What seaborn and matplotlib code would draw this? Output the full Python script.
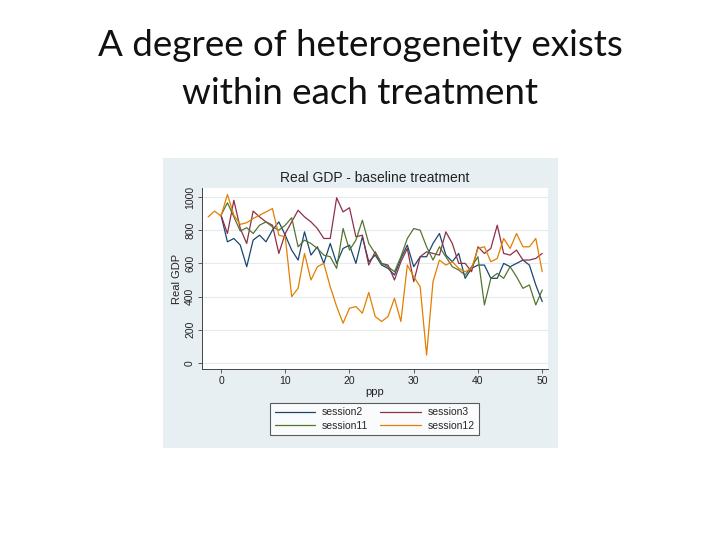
import pandas as pd
import seaborn as sns
from matplotlib import pyplot as plt

# values
ppp = list(range(0, 51))
ppp12 = list(range(-2, 51))

session2 = [890, 730, 750, 710, 580, 740, 770, 730, 800, 850, 770,
            680, 620, 790, 650, 700, 600, 720, 600, 690, 710,
            600, 760, 610, 650, 590, 570, 530, 630, 710, 580,
            640, 640, 720, 780, 650, 610, 660, 510, 570, 590,
            590, 510, 510, 600, 580, 600, 620, 590, 470, 370]
session3 = [890, 780, 980, 810, 720, 915, 880, 850, 830, 660, 780,
            850, 920, 880, 850, 810, 750, 750, 995, 910, 935,
            760, 770, 590, 670, 600, 590, 500, 610, 690, 490,
            640, 670, 660, 650, 790, 720, 600, 600, 550, 700,
            660, 690, 830, 660, 650, 680, 620, 620, 630, 660]
session11 = [890, 965, 880, 795, 815, 780, 830, 850, 820, 800, 830,
             875, 700, 740, 720, 690, 650, 640, 570, 810, 680,
             740, 860, 720, 660, 600, 580, 550, 640, 750, 810,
             800, 700, 620, 700, 640, 580, 560, 530, 580, 640,
             350, 510, 540, 510, 580, 520, 450, 470, 350, 440]
session12 = [880, 915, 885, 1015, 890, 835, 845, 870, 890, 910, 930, 770, 760,
             400, 450, 660, 500, 580, 600, 460, 340, 240, 330,
             340, 300, 425, 280, 250, 280, 390, 250, 590, 520,
             460, 48, 490, 620, 590, 610, 570, 550, 570, 690,
             700, 610, 630, 750, 690, 780, 700, 700, 750, 550]

sessions = ['session2', 'session3', 'session11', 'session12']
colors = ['#1a476f', '#8e2f48', '#55752f', '#e37e00']

frames = []
for name, x, y in [('session2', ppp, session2), ('session3', ppp, session3),
                   ('session11', ppp, session11), ('session12', ppp12, session12)]:
    frames.append(pd.DataFrame({'ppp': x, 'Real GDP': y, 'session': name}))
data = pd.concat(frames, ignore_index=True)

sns.set_style('white')
plt.rcParams['font.family'] = ['Liberation Sans', 'DejaVu Sans']

fig = plt.figure(figsize=(7.2, 5.4), dpi=100)
fig.patch.set_facecolor('white')

# slide title
fig.text(0.5, 1 - 46 / 540, 'A degree of heterogeneity exists', ha='center', va='center',
         fontsize=26.5, family=['Lato', 'DejaVu Sans'], color='#111111')
fig.text(0.5, 1 - 93 / 540, 'within each treatment', ha='center', va='center',
         fontsize=26.5, family=['Lato', 'DejaVu Sans'], color='#111111')

# stata graph region
bg = fig.add_axes([163 / 720, 1 - 448 / 540, 395 / 720, 290 / 540])
bg.set_facecolor('#e8eff3')
bg.set_xticks([])
bg.set_yticks([])
for s in bg.spines.values():
    s.set_visible(False)

ax = fig.add_axes([202 / 720, 1 - 369 / 540, 346 / 720, 181 / 540])
ax.set_facecolor('white')
sns.lineplot(data=data, x='ppp', y='Real GDP', hue='session', hue_order=sessions,
             palette=colors, linewidth=0.9, ax=ax)

ax.set_xlim(-2.96, 50.9)
ax.set_ylim(-36, 1054)
ax.set_xticks([0, 10, 20, 30, 40, 50])
ax.set_yticks([0, 200, 400, 600, 800, 1000])
ax.grid(axis='y', color='#e3ebef', linewidth=0.8)
ax.set_axisbelow(True)
ax.tick_params(axis='both', direction='out', length=3, width=0.6, color='#444444',
               labelsize=7.5, pad=2, left=True, bottom=True, labelcolor='#222222')
for lab in ax.get_yticklabels():
    lab.set_rotation(90)
    lab.set_va('center')
for side in ['top', 'right']:
    ax.spines[side].set_visible(False)
for side in ['left', 'bottom']:
    ax.spines[side].set_color('#444444')
    ax.spines[side].set_linewidth(0.7)
ax.set_xlabel('ppp', fontsize=8, labelpad=1, color='#222222')
ax.set_ylabel('Real GDP', fontsize=8, labelpad=2, color='#222222')
ax.set_title('Real GDP - baseline treatment', fontsize=10, pad=4, color='#222222')

# stata fills the legend row by row
handles, labels = ax.get_legend_handles_labels()
order = [0, 2, 1, 3]
ax.legend([handles[i] for i in order], [labels[i] for i in order],
          loc='center', bbox_to_anchor=(374.5 / 720, 1 - 419 / 540),
          bbox_transform=fig.transFigure, ncol=2, fontsize=7.5, frameon=True,
          fancybox=False, edgecolor='#333333', handlelength=3.9,
          columnspacing=1.2, handletextpad=0.6, borderpad=0.4, labelspacing=0.3)
ax.get_legend().get_frame().set_linewidth(0.8)

plt.savefig('out.png', dpi=100)
